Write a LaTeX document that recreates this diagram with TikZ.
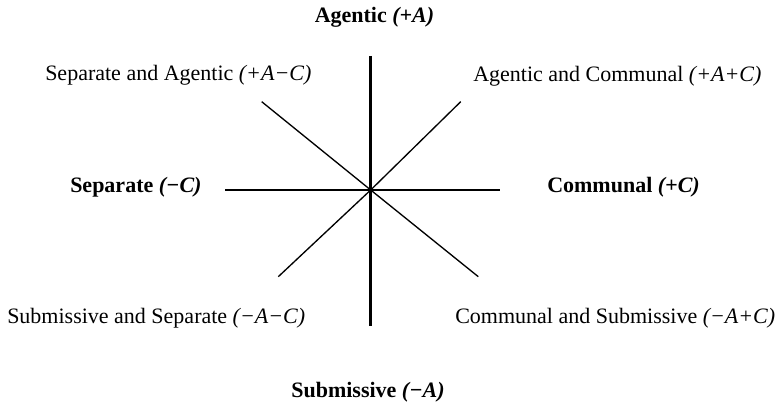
\documentclass[tikz,border=0pt]{standalone}
\usepackage{fontspec}
\setmainfont{Liberation Serif}
\usepackage{tikz}
\usetikzlibrary{calc}

\begin{document}
\begin{tikzpicture}[x=0.75pt, y=0.75pt,
    axisline/.style={line width=2.2pt},
    diagline/.style={line width=1pt},
    lbl/.style={inner sep=0pt, font=\fontsize{16.5}{19}\selectfont}]

    \useasboundingbox (0,0) rectangle (776,402);

    % centre and ends of the lines
    \coordinate (o) at (370.7,212);
    \coordinate (top) at (370.7,346);
    \coordinate (bot) at (370.7,76);
    \coordinate (lft) at (225,212);
    \coordinate (rgt) at (500,212);
    \coordinate (ul) at (261.7,300.3);
    \coordinate (lr) at (478.3,125.3);
    \coordinate (ll) at (278.3,125.3);
    \coordinate (ur) at (460.7,300.3);

    \draw[axisline] (top) -- (bot);
    \draw[axisline] (lft) -- (rgt);
    \draw[diagline] (ul) -- (o) -- (lr);
    \draw[diagline] (ll) -- (o) -- (ur);

    % labels
    \node[lbl] (agentic) at (374.5,385) {\textbf{Agentic \textit{(+A)}}};
    \node[lbl] (submissive) at (368,10) {\textbf{Submissive \textit{(−A)}}};
    \node[lbl, anchor=west] (separate) at (70,215) {\textbf{Separate \textit{(−C)}}};
    \node[lbl, anchor=west] (communal) at (547,215) {\textbf{Communal \textit{(+C)}}};
    \node[lbl, anchor=west] (sepag) at (45,327) {Separate and Agentic \textit{(+A−C)}};
    \node[lbl, anchor=west] (agcom) at (473,326) {Agentic and Communal \textit{(+A+C)}};
    \node[lbl, anchor=west] (subsep) at (7,84) {Submissive and Separate \textit{(−A−C)}};
    \node[lbl, anchor=west] (comsub) at (455,84) {Communal and Submissive \textit{(−A+C)}};
\end{tikzpicture}
\end{document}
